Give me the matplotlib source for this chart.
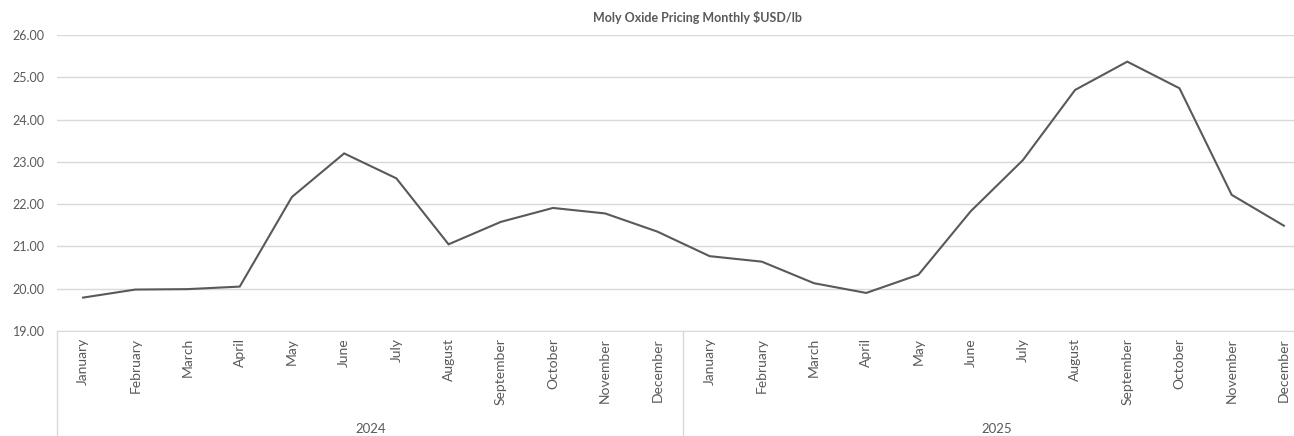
import matplotlib.pyplot as plt
import matplotlib.transforms as mtransforms

plt.rcParams['font.family'] = ['Lato', 'DejaVu Sans']

months = ["January", "February", "March", "April", "May", "June", "July",
          "August", "September", "October", "November", "December"]
years = ["2024", "2025"]
prices = [19.79, 19.98, 19.99, 20.05, 22.17, 23.20, 22.61, 21.05, 21.58, 21.91, 21.78, 21.35,
          20.77, 20.64, 20.13, 19.90, 20.33, 21.83, 23.04, 24.70, 25.37, 24.74, 22.22, 21.49]
title = "Moly Oxide Pricing Monthly $USD/lb"

W, H = 1294, 436
fig = plt.figure(figsize=(W / 100, H / 100), dpi=100)
ax = fig.add_axes([57 / W, (H - 331) / H, 1253 / W, 296 / H])

labels = months * len(years)
x = list(range(len(prices)))
ax.plot(x, prices, color="#595959", lw=1.5, solid_joinstyle="miter")

ax.set_xlim(-0.5, len(prices) - 0.5)
ax.set_ylim(19, 26)
ax.set_yticks(range(19, 27))
ax.set_yticklabels([f"{v:.2f}" for v in range(19, 27)])
ax.yaxis.grid(True, color="#d9d9d9", lw=1)
ax.set_axisbelow(True)
for s in ["top", "right", "left"]:
    ax.spines[s].set_visible(False)
ax.spines["bottom"].set_color("#d9d9d9")

ax.set_xticks(x)
ax.set_xticklabels(labels, rotation=90, va="top", ha="center")
ax.tick_params(axis="x", length=0, pad=5, labelsize=10, labelcolor="#595959")
ax.tick_params(axis="y", length=0, pad=9, labelsize=9, labelcolor="#595959")

# category group separators and year labels
trans = mtransforms.blended_transform_factory(ax.transData, fig.transFigure)
bottom = (H - 331) / H
for i in range(len(years) + 1):
    xs = i * len(months) - 0.5
    ax.plot([xs, xs], [0, bottom], transform=trans, color="#d9d9d9", lw=1, clip_on=False)
for i, yr in enumerate(years):
    xc = i * len(months) + (len(months) - 1) / 2
    ax.text(xc, (H - 429) / H, yr, transform=trans, ha="center", va="center",
            fontsize=9.5, color="#595959")

fig.text(697 / W, (H - 17) / H, title, ha="center", va="center",
         fontsize=9, fontweight="bold", color="#595959")

fig.savefig("out.png", dpi=100)
